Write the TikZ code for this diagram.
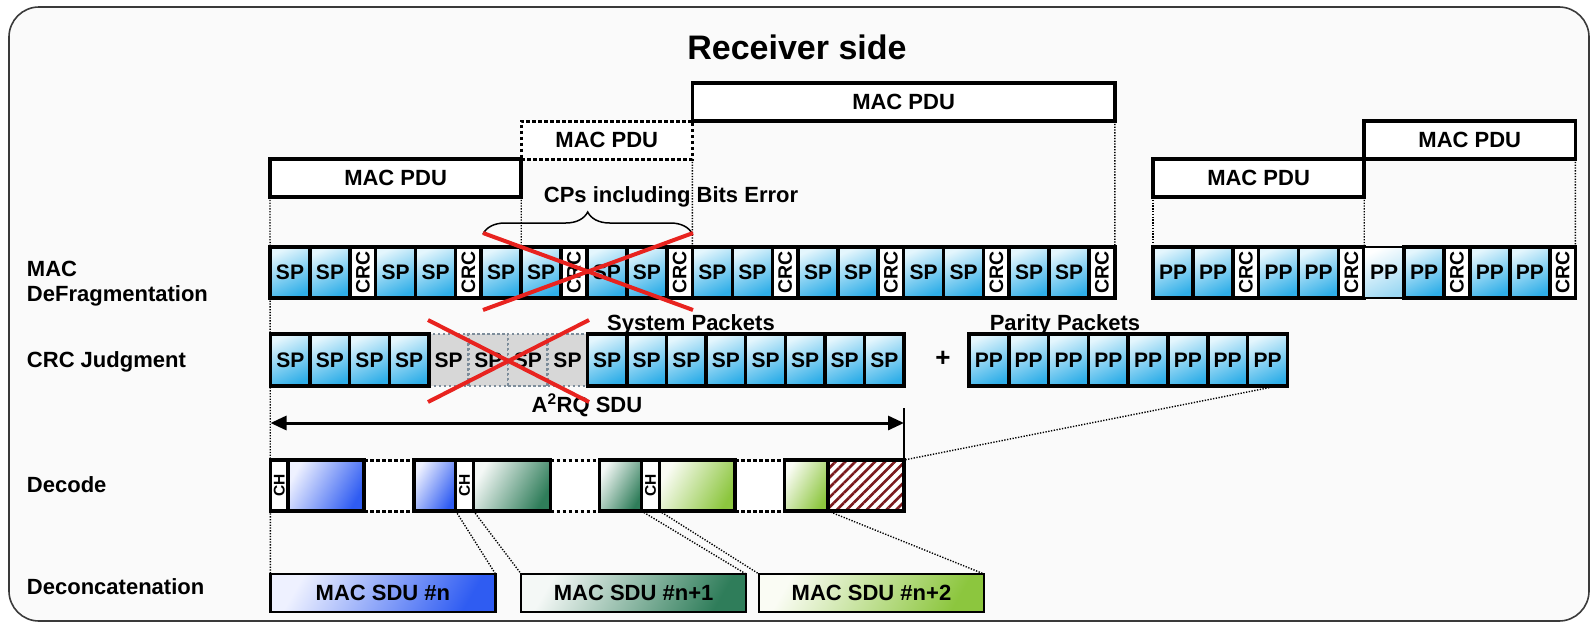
\documentclass[tikz,border=0pt]{standalone}
\usepackage{fontspec}
\setmainfont{Liberation Sans}
\usepackage{graphicx}
\usetikzlibrary{arrows.meta,decorations.pathreplacing,patterns.meta,calc}

\definecolor{bgc}{HTML}{FAFAFA}
\definecolor{framec}{HTML}{3A3A3A}
\definecolor{spTop}{HTML}{E4F6FD}
\definecolor{spBot}{HTML}{2FAEE8}
\definecolor{ppPaleBot}{HTML}{9CD8F3}
\definecolor{blueL}{HTML}{EEF1FF}
\definecolor{blueR}{HTML}{2F5CF2}
\definecolor{dgL}{HTML}{F4F8F6}
\definecolor{dgR}{HTML}{2F7D5A}
\definecolor{lgL}{HTML}{FAFCF4}
\definecolor{lgR}{HTML}{8CC63E}
\definecolor{hatchc}{HTML}{7A1B1E}
\definecolor{xred}{HTML}{E8231F}
\definecolor{grayfill}{HTML}{D7D7D7}
\definecolor{graydot}{HTML}{7C8C9A}

\newcommand{\labfont}{\fontsize{22}{25.5}\selectfont\bfseries}
\newcommand{\titlefont}{\fontsize{34}{40}\selectfont\bfseries}
\newcommand{\cellfont}{\fontsize{21}{24}\selectfont\bfseries}
\newcommand{\crcfont}{\fontsize{19.5}{22}\selectfont\bfseries}
\newcommand{\chfont}{\fontsize{15.5}{18}\selectfont\bfseries}

\pgfdeclarelayer{bg}
\pgfsetlayers{bg,main}

\tikzset{
  cellbox/.style={draw=black, line width=3.5pt, inner sep=0pt, outer sep=0pt, anchor=north west},
  pdubox/.style={cellbox, fill=white, font=\labfont},
  spc/.style={cellbox, top color=spTop, bottom color=spBot, shading angle=25, font=\cellfont, minimum width=40pt},
  spcpale/.style={cellbox, line width=2pt, top color=white, bottom color=ppPaleBot, shading angle=25, font=\cellfont, minimum width=40pt},
  crcc/.style={cellbox, fill=white, font=\crcfont, minimum width=25.6pt},
  grc/.style={cellbox, draw=graydot, line width=2.5pt, dash pattern=on 2.5pt off 2.5pt, fill=grayfill, font=\cellfont},
  chc/.style={cellbox, fill=white, font=\chfont, minimum height=51pt},
  decc/.style={cellbox, minimum height=51pt},
  blueg/.style={left color=blueL, right color=blueR, shading angle=60},
  dgreeng/.style={left color=dgL, right color=dgR, shading angle=60},
  lgreeng/.style={left color=lgL, right color=lgR, shading angle=60},
  sdubox/.style={cellbox, line width=2.5pt, font=\labfont, minimum height=38pt},
  thindot/.style={line width=1.4pt, dash pattern=on 1.3pt off 1.5pt},
  thickdot/.style={line width=3pt, dash pattern=on 3.5pt off 2.5pt},
  redx/.style={draw=xred, line width=4pt},
  txt/.style={font=\labfont, inner sep=0pt, outer sep=0pt}
}

\begin{document}
\begin{tikzpicture}[x=1pt,y=-1pt]
\useasboundingbox (0,0) rectangle (1593,624);
\begin{pgfonlayer}{bg}
\draw[rounded corners=30pt, fill=bgc, draw=framec, line width=1.6pt] (9,7) rectangle (1589,621);
\end{pgfonlayer}

% title
\node[font=\titlefont, anchor=base, inner sep=0pt] (title) at (797,59) {Receiver side};

% MAC PDU boxes
\node[pdubox, minimum width=422.4pt, minimum height=38pt] (pduC) at (692.4,83) {MAC PDU};
\node[pdubox, thickdot, minimum width=171.2pt, minimum height=38pt] (pduB) at (521.2,121) {MAC PDU};
\node[pdubox, minimum width=251.2pt, minimum height=38pt] (pduA) at (270,159) {MAC PDU};
\node[pdubox, minimum width=211.2pt, minimum height=38pt] (pduD) at (1153,159) {MAC PDU};
\node[pdubox, minimum width=211.2pt, minimum height=38pt] (pduE) at (1364.2,121) {MAC PDU};

% MAC defragmentation row (SP)
\foreach \g in {0,...,7}{
  \pgfmathsetmacro\xa{270+\g*105.6}
  \pgfmathsetmacro\xb{\xa+40}
  \pgfmathsetmacro\xc{\xa+80}
  \node[spc, minimum height=51pt] (dfa\g) at (\xa,247) {SP};
  \node[spc, minimum height=51pt] (dfb\g) at (\xb,247) {SP};
  \node[crcc, minimum height=51pt] (dfc\g) at (\xc,247) {\rotatebox{90}{CRC}};
}
% MAC defragmentation row (PP)
\foreach \g/\st in {0/spc,1/spc,2/spcpale,3/spc}{
  \pgfmathsetmacro\xa{1153+\g*105.6}
  \pgfmathsetmacro\xb{\xa+40}
  \pgfmathsetmacro\xc{\xa+80}
  \node[\st, minimum height=51pt] (ppa\g) at (\xa,247) {PP};
  \node[spc, minimum height=51pt] (ppb\g) at (\xb,247) {PP};
  \node[crcc, minimum height=51pt] (ppc\g) at (\xc,247) {\rotatebox{90}{CRC}};
}

% brace and its label
\draw[line width=1.5pt, decorate, decoration={brace, amplitude=22pt}] (483,234) -- (692.4,234);
\node[txt, anchor=base] (cps) at (671,202) {CPs including Bits Error};

% row labels
\node[txt, anchor=north west, align=left] (lmac) at (27,261) {MAC\\DeFragmentation};
\node[txt, anchor=base west] (lcrc) at (27,367) {CRC Judgment};
\node[txt, anchor=base west] (ldec) at (27,492) {Decode};
\node[txt, anchor=base west] (lcon) at (27,594) {Deconcatenation};

% CRC judgment row
\foreach \i in {4,5,6,7}{
  \pgfmathsetmacro\xa{270.5+\i*39.6}
  \node[grc, minimum width=39.6pt, minimum height=52pt] (cj\i) at (\xa,334) {SP};
}
\foreach \i in {0,1,2,3,8,9,10,11,12,13,14,15}{
  \pgfmathsetmacro\xa{270.5+\i*39.6}
  \node[spc, minimum width=39.6pt, minimum height=52pt] (cj\i) at (\xa,334) {SP};
}
\node[txt, anchor=base] (sysp) at (691,330) {System Packets};

% parity packets
\foreach \i in {0,...,7}{
  \pgfmathsetmacro\xa{969+\i*39.8}
  \node[spc, minimum width=39.8pt, minimum height=52pt] (pp\i) at (\xa,334) {PP};
}
\node[txt, anchor=base] (parp) at (1065,330) {Parity Packets};
\node[font=\fontsize{26}{30}\selectfont\bfseries, inner sep=0pt] (plus) at (943,359) {+};

% A2RQ SDU arrow
\coordinate (arL) at (270.5,423);
\coordinate (arR) at (904,423);
\draw[{Triangle[length=16pt,width=14pt]}-{Triangle[length=16pt,width=14pt]}, line width=3pt] (arL) -- (arR);
\node[txt, anchor=base] (a2rq) at (587,412) {A\textsuperscript{2}RQ SDU};

% decode row
\node[chc, minimum width=17.6pt] (CH1) at (270.4,460) {\rotatebox{90}{CH}};
\node[decc, blueg, minimum width=76pt] (B1) at (288,460) {};
\node[decc, blueg, minimum width=41.7pt] (B2) at (414,460) {};
\node[chc, minimum width=17.8pt] (CH2) at (455.7,460) {\rotatebox{90}{CH}};
\node[decc, dgreeng, minimum width=77pt] (G1) at (473.5,460) {};
\node[decc, dgreeng, minimum width=42.2pt] (G2) at (599.3,460) {};
\node[chc, minimum width=18pt] (CH3) at (641.5,460) {\rotatebox{90}{CH}};
\node[decc, lgreeng, minimum width=75.5pt] (L1) at (659.5,460) {};
\node[decc, lgreeng, minimum width=43.5pt] (L2) at (784.5,460) {};
\node[decc, preaction={fill=white}, pattern={Lines[angle=45,distance=7pt,line width=2.6pt]}, pattern color=hatchc, minimum width=76pt] (H) at (828,460) {};

\begin{pgfonlayer}{bg}
\fill[white] (B1.north east) rectangle (B2.south west);
\fill[white] (G1.north east) rectangle (G2.south west);
\fill[white] (L1.north east) rectangle (L2.south west);
\end{pgfonlayer}
\draw[thickdot] (B1.north east) -- (B2.north west);
\draw[thickdot] (B1.south east) -- (B2.south west);
\draw[thickdot] (G1.north east) -- (G2.north west);
\draw[thickdot] (G1.south east) -- (G2.south west);
\draw[thickdot] (L1.north east) -- (L2.north west);
\draw[thickdot] (L1.south east) -- (L2.south west);

\coordinate (vtop) at (904,408);
\draw[line width=2pt] (vtop) -- (H.north east);

% deconcatenation
\node[sdubox, blueg, minimum width=225.1pt] (sdu1) at (270.4,574) {MAC SDU \#n};
\node[sdubox, dgreeng, minimum width=224.8pt] (sdu2) at (521.2,574) {MAC SDU \#n+1};
\node[sdubox, lgreeng, minimum width=225pt] (sdu3) at (759,574) {MAC SDU \#n+2};

% dotted guide connectors
\begin{pgfonlayer}{bg}
\draw[thindot] (pduA.south west) -- (sdu1.north west);
\draw[thindot] (pduA.south east) -- (dfb2.north west);
\draw[thindot] (pduB.south east) -- (dfa4.north west);
\draw[thindot] (pduC.south east) -- (dfc7.north east);
\draw[thindot] (pduD.south west) -- (ppa0.north west);
\draw[thindot] (pduD.south east) -- (ppa2.north west);
\draw[thindot] (pduE.south east) -- (ppc3.north east);
\end{pgfonlayer}
\draw[thindot] ($(pp7.south)!0.5!(pp7.south east)$) -- (H.north east);
\draw[thindot] (B2.south east) -- (sdu1.north east);
\draw[thindot] (G1.south west) -- (sdu2.north west);
\draw[thindot] (G2.south east) -- (sdu2.north east);
\draw[thindot] (L1.south west) -- (sdu3.north west);
\draw[thindot] (H.south west) -- (sdu3.north east);

% red crosses
\draw[redx] (483,233) -- (693,310);
\draw[redx] (483,310) -- (693,233);
\draw[redx] (428,320) -- (589,402);
\draw[redx] (428,402) -- (589,320);
\end{tikzpicture}
\end{document}
